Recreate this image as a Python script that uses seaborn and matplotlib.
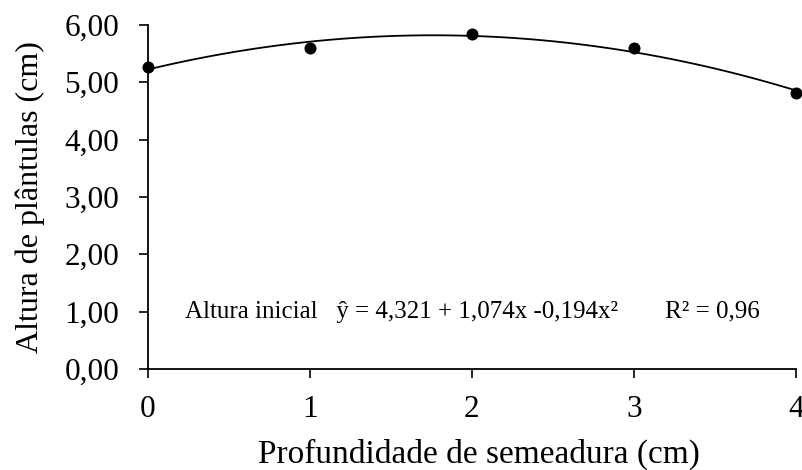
import matplotlib
matplotlib.use("Agg")
import matplotlib.pyplot as plt
import seaborn as sns
import pandas as pd
import numpy as np
from matplotlib.ticker import FuncFormatter

# Data
profundidade = [0, 1, 2, 3, 4]
altura = [5.27, 5.60, 5.84, 5.59, 4.82]
x_ticks = [0, 1, 2, 3, 4]
y_ticks = [0, 1, 2, 3, 4, 5, 6]
equation_label = "Altura inicial   \u0177 = 4,321 + 1,074x -0,194x\u00b2"
r2_label = "R\u00b2 = 0,96"
x_label = "Profundidade de semeadura (cm)"
y_label = "Altura de pl\u00e2ntulas (cm)"

df = pd.DataFrame({"x": profundidade, "y": altura})

sns.set_theme(style="ticks")
plt.rcParams['font.family'] = ['Liberation Serif', 'DejaVu Serif']

fig = plt.figure(figsize=(8.03, 4.70), dpi=100)
ax = fig.add_axes([0.184, 0.215, 0.807, 0.732])

sns.regplot(data=df, x="x", y="y", order=2, ci=None, scatter=False,
            line_kws={"color": "black", "linewidth": 1.3}, ax=ax)
sns.scatterplot(data=df, x="x", y="y", color="black", s=75, edgecolor="black",
                linewidth=0, zorder=5, ax=ax, clip_on=False)

ax.set_xlim(0, 4)
ax.set_ylim(0, 6)
ax.set_xticks(x_ticks)
ax.set_yticks(y_ticks)
ax.yaxis.set_major_formatter(FuncFormatter(lambda v, p: f"{v:.2f}".replace(".", ",")))
ax.tick_params(axis="both", labelsize=22.5, length=6.5, width=1.2, color="black",
               labelcolor="black", direction="out")
ax.tick_params(axis="y", pad=14)
ax.tick_params(axis="x", pad=12)
for s in ["top", "right"]:
    ax.spines[s].set_visible(False)
for s in ["left", "bottom"]:
    ax.spines[s].set_color("black")
    ax.spines[s].set_linewidth(1.3)

ax.set_xlabel(x_label, fontsize=24, color="black", labelpad=11)
ax.xaxis.label.set_x(0.511)
ax.set_ylabel(y_label, fontsize=23, color="black", labelpad=14)

ax.text(0.23, 1.0, equation_label, fontsize=18, ha="left", va="center", color="black")
ax.text(3.19, 1.0, r2_label, fontsize=18, ha="left", va="center", color="black")

fig.savefig("out.png", dpi=100)
